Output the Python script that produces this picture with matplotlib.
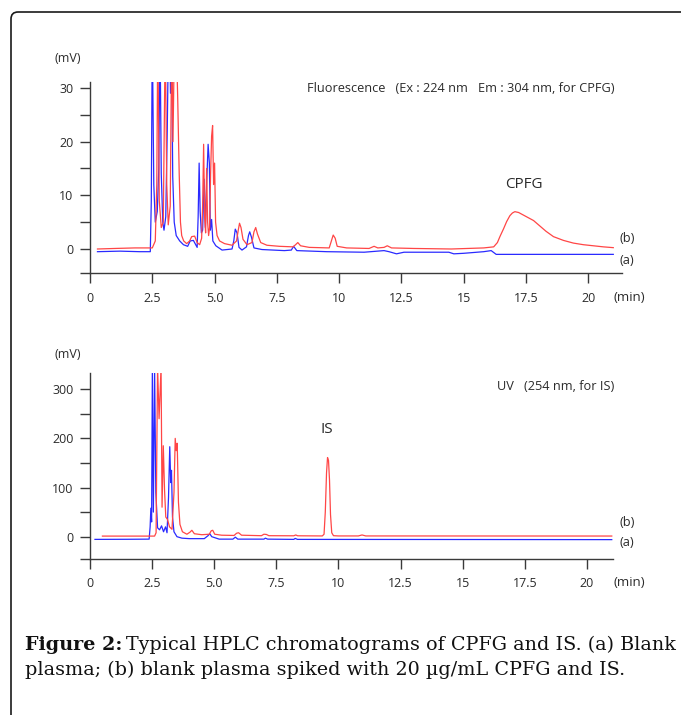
import numpy as np
import matplotlib
matplotlib.use('Agg')
import matplotlib.pyplot as plt
from matplotlib.patches import FancyBboxPatch

# (time min, signal mV)
# top panel: fluorescence, (a) blank plasma = blue, (b) spiked = red
fl_blank = [(0.3, -0.5), (1.2, -0.4), (2.0, -0.5), (2.42, -0.5), (2.46, 9), (2.5, 40), (2.56, 12),
            (2.62, 5), (2.7, 7), (2.76, 15), (2.81, 40), (2.86, 14), (2.92, 5), (2.97, 3.5),
            (3.04, 6), (3.1, 22), (3.15, 40), (3.2, 40), (3.23, 29), (3.27, 40), (3.32, 13.5),
            (3.38, 5), (3.46, 2.5), (3.6, 1.5), (3.75, 0.8), (3.92, 0.5), (4.02, 1.5), (4.15, 1.6),
            (4.3, 0.3), (4.34, 6), (4.38, 16), (4.42, 7), (4.47, 3), (4.52, 3.5), (4.58, 13),
            (4.63, 4), (4.68, 12), (4.74, 19.5), (4.79, 16), (4.83, 3.5), (4.88, 5.5), (4.93, 1.5),
            (5.05, 0.6), (5.3, -0.2), (5.7, 0), (5.77, 1.5), (5.83, 3.7), (5.9, 3.0), (5.98, 0.3),
            (6.1, -0.2), (6.28, 0.4), (6.36, 2.5), (6.41, 3.2), (6.48, 2.2), (6.58, 0.2), (6.9, -0.1),
            (7.8, -0.3), (8.08, -0.2), (8.17, 0.5), (8.3, -0.3), (9.5, -0.5), (11.0, -0.6),
            (11.8, -0.3), (12.0, -0.5), (12.3, -0.9), (12.6, -0.6), (14.4, -0.6), (14.6, -0.9),
            (15.0, -0.8), (15.8, -0.5), (16.1, -0.3), (16.3, -1.0), (21.0, -1.0)]
fl_spiked = [(0.3, 0), (1.0, 0.1), (1.8, 0.2), (2.5, 0.2), (2.62, 1.5), (2.68, 12), (2.72, 40),
             (2.78, 9), (2.86, 4), (2.94, 5), (3.02, 40), (3.08, 12), (3.14, 4.5), (3.22, 8),
             (3.28, 40), (3.33, 20), (3.39, 40), (3.46, 40), (3.52, 28), (3.58, 14), (3.63, 5),
             (3.68, 2.5), (3.76, 1.5), (3.88, 1.0), (4.0, 1.5), (4.08, 2.3), (4.2, 2.4), (4.3, 1.2),
             (4.4, 0.8), (4.48, 2), (4.52, 8), (4.56, 19.5), (4.6, 6), (4.64, 3), (4.68, 15),
             (4.72, 5), (4.76, 2.5), (4.8, 4), (4.84, 14), (4.88, 21), (4.92, 23), (4.96, 12),
             (5.0, 16), (5.04, 5), (5.1, 2.5), (5.2, 1.5), (5.4, 1), (5.7, 0.7), (5.88, 1.5),
             (5.95, 3.5), (6.0, 4.8), (6.06, 4), (6.14, 1.8), (6.3, 0.8), (6.5, 1.2), (6.58, 3.2),
             (6.65, 4), (6.72, 2.8), (6.85, 1.2), (7.1, 0.7), (7.6, 0.5), (8.15, 0.4), (8.25, 0.8),
             (8.34, 1.2), (8.45, 0.6), (8.8, 0.3), (9.6, 0.2), (9.68, 1.4), (9.76, 2.6), (9.84, 2.0),
             (9.92, 0.5), (10.3, 0.2), (11.2, 0.1), (11.4, 0.5), (11.55, 0.2), (11.8, 0.3),
             (11.93, 0.6), (12.1, 0.2), (13.0, 0.1), (14.5, 0.0), (15.8, 0.2), (16.2, 0.4),
             (16.35, 1.2), (16.45, 2.3), (16.6, 3.8), (16.72, 5.1), (16.85, 6.2), (16.95, 6.7),
             (17.05, 6.95), (17.2, 6.8), (17.4, 6.3), (17.6, 5.8), (17.8, 5.3), (18.0, 4.5),
             (18.3, 3.3), (18.6, 2.3), (19.0, 1.6), (19.4, 1.1), (19.8, 0.8), (20.2, 0.6),
             (20.6, 0.4), (21.0, 0.25)]

# bottom panel: UV 254 nm
uv_blank = [(0.2, -5.5), (1.5, -5.3), (2.38, -5), (2.42, 20), (2.45, 58), (2.48, 30), (2.51, 340),
            (2.55, 50), (2.6, 340), (2.65, 90), (2.72, 18), (2.8, 14), (2.88, 22), (2.96, 10),
            (3.04, 20), (3.1, 8), (3.16, 80), (3.21, 183), (3.25, 110), (3.28, 135), (3.32, 40),
            (3.38, 10), (3.5, 0), (3.7, -3), (4.0, -4), (4.6, -4), (4.75, 2), (4.82, 6), (4.9, 0),
            (5.2, -5), (5.75, -5), (5.85, -1), (5.95, -5), (7.0, -5), (7.06, -3), (7.15, -5),
            (8.2, -5.5), (8.26, -3.5), (8.35, -5.5), (21.0, -6)]
uv_spiked = [(0.5, 1.2), (2.6, 1.2), (2.66, 8), (2.72, 345), (2.78, 240), (2.86, 345), (2.9, 60),
             (2.95, 185), (3.0, 95), (3.05, 40), (3.12, 35), (3.2, 20), (3.3, 15), (3.38, 90),
             (3.43, 200), (3.47, 175), (3.51, 190), (3.56, 70), (3.62, 25), (3.72, 10), (3.9, 5),
             (4.02, 9), (4.1, 13), (4.2, 6), (4.5, 4), (4.8, 5), (4.88, 12), (4.94, 13), (5.02, 5),
             (5.3, 3), (5.8, 2.5), (5.9, 7), (5.98, 8), (6.1, 3), (6.9, 2), (7.0, 5), (7.1, 4.5),
             (7.2, 2), (8.2, 1.8), (8.28, 3.5), (8.36, 1.8), (9.35, 1.5), (9.42, 5), (9.47, 50),
             (9.52, 130), (9.56, 161), (9.6, 155), (9.64, 115), (9.68, 45), (9.73, 8), (9.8, 2),
             (10.0, 1.5), (10.8, 1.5), (10.95, 3.5), (11.1, 1.5), (21.0, 1.3)]

x_ticks = [0, 2.5, 5, 7.5, 10, 12.5, 15, 17.5, 20]
x_labels = ['0', '2.5', '5.0', '7.5', '10', '12.5', '15', '17.5', '20']
fl_yticks = [0, 10, 20, 30]
fl_yminor = [5, 15, 25]
uv_yticks = [0, 100, 200, 300]
uv_yminor = [50, 150, 250]

RED = '#ff4646'
BLUE = '#2a2aff'
AX = '#3a3a3a'
TXT = '#2b2b2b'
W, H = 681, 715

fig = plt.figure(figsize=(W / 100, H / 100), dpi=100)


def box(l, t, r, b):
    return [l / W, 1 - b / H, (r - l) / W, (b - t) / H]


def px(x, y):
    return x / W, 1 - y / H


def setup(ax, xmax, ylo, yhi, yticks, yminor):
    ax.set_xlim(0, xmax)
    ax.set_ylim(ylo, yhi)
    ax.spines['top'].set_visible(False)
    ax.spines['right'].set_visible(False)
    for s in ['left', 'bottom']:
        ax.spines[s].set_color(AX)
        ax.spines[s].set_linewidth(1)
    ax.set_xticks(x_ticks)
    ax.set_xticklabels(x_labels)
    ax.set_yticks(yticks)
    ax.set_yticks(yminor + [ylo], minor=True)
    ax.tick_params(which='both', length=7, width=1, color=AX, direction='out',
                   labelsize=9, labelcolor=TXT)
    ax.tick_params(axis='x', pad=6.5)
    ax.tick_params(axis='y', pad=5)
    ax.patch.set_alpha(0)
    for lab in ax.get_xticklabels() + ax.get_yticklabels():
        lab.set_fontfamily('Open Sans')


ax1 = fig.add_axes(box(90, 82, 622, 273))
setup(ax1, 21.35, -4.47, 31.1, fl_yticks, fl_yminor)
t, v = np.array(fl_blank).T
ax1.plot(t, v, color=BLUE, lw=0.9)
t, v = np.array(fl_spiked).T
ax1.plot(t, v, color=RED, lw=0.9)

ax2 = fig.add_axes(box(90, 373, 613, 558.7))
setup(ax2, 21.05, -44.8, 333, uv_yticks, uv_yminor)
t, v = np.array(uv_blank).T
ax2.plot(t, v, color=BLUE, lw=0.9)
t, v = np.array(uv_spiked).T
ax2.plot(t, v, color=RED, lw=0.9)

kw = dict(family='Open Sans', color=TXT)
fig.text(*px(68, 59), '(mV)', ha='center', va='center', size=9, **kw)
fig.text(*px(68, 355), '(mV)', ha='center', va='center', size=9, **kw)
fig.text(*px(307, 88), 'Fluorescence   (Ex : 224 nm   Em : 304 nm, for CPFG)',
         ha='left', va='center', size=9.2, **kw)
fig.text(*px(497, 387), 'UV   (254 nm, for IS)', ha='left', va='center', size=9.2, **kw)
fig.text(*px(524, 185), 'CPFG', ha='center', va='center', size=11, **kw)
fig.text(*px(327, 430), 'IS', ha='center', va='center', size=11, **kw)
fig.text(*px(620, 239), '(b)', ha='left', va='center', size=9.2, **kw)
fig.text(*px(620, 260), '(a)', ha='left', va='center', size=9.2, **kw)
fig.text(*px(620, 523), '(b)', ha='left', va='center', size=9.2, **kw)
fig.text(*px(620, 543), '(a)', ha='left', va='center', size=9.2, **kw)
fig.text(*px(614, 297), '(min)', ha='left', va='center', size=9.5, **kw)
fig.text(*px(614, 582), '(min)', ha='left', va='center', size=9.5, **kw)

# caption, bold lead-in followed by plain text
cap = dict(family='DejaVu Serif', size=13.8, color='#111111', va='baseline')
lead = fig.text(*px(25, 650), 'Figure 2:', weight='bold', **cap)
fig.canvas.draw()
bb = lead.get_window_extent()
fig.text((bb.x1 + 4) / W, 1 - 650 / H, 'Typical HPLC chromatograms of CPFG and IS. (a) Blank', **cap)
fig.text(*px(25, 675), 'plasma; (b) blank plasma spiked with 20 \u00b5g/mL CPFG and IS.', **cap)

# outer frame with rounded top-left corner
frame = FancyBboxPatch((11, -60), 800, H - 12 + 60, boxstyle='round,pad=0,rounding_size=7',
                       transform=None, fill=False, edgecolor='#1a1a1a', linewidth=1.2)
fig.add_artist(frame)

fig.savefig('out.png', dpi=100)
